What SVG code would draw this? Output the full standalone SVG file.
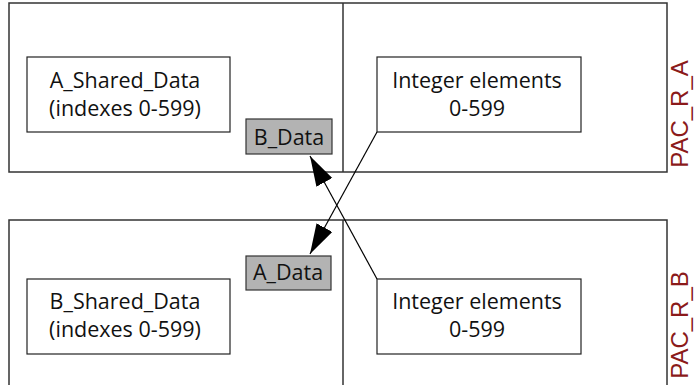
<svg xmlns="http://www.w3.org/2000/svg" width="697" height="385" viewBox="0 0 697 385">
<style>
.outer{fill:#fff;stroke:#333;stroke-width:1.5}
.div{stroke:#333;stroke-width:1.5}
.box{fill:#fff;stroke:#222;stroke-width:1.2}
.gbox{fill:#b3b3b3;stroke:#333;stroke-width:1.2}
.t{font-family:"Open Sans",sans-serif;font-size:21.5px;fill:#111;text-anchor:middle}
.lbl{font-family:"Liberation Sans",Arial,sans-serif;font-size:24px;fill:#8b1a1a;text-anchor:middle}
.conn{stroke:#000;stroke-width:1.2;fill:none}
</style>
<defs>
<marker id="ah" markerUnits="userSpaceOnUse" markerWidth="32" markerHeight="20" refX="30" refY="9" orient="auto">
<path d="M0,0 L30,9 L0,18 Z" fill="#000"/>
</marker>
</defs>
<g id="pac_r_a">
<rect class="outer" x="9" y="3" width="658" height="169"/>
<line class="div" x1="343" y1="3" x2="343" y2="172"/>
<text class="lbl" transform="translate(688,114) rotate(-90)">PAC_R_A</text>
</g>
<g id="pac_r_b">
<rect class="outer" x="9" y="220" width="658" height="175"/>
<line class="div" x1="343" y1="220" x2="343" y2="385"/>
<text class="lbl" transform="translate(688,325) rotate(-90)">PAC_R_B</text>
</g>
<g id="a_shared">
<rect class="box" x="27" y="57" width="203" height="75"/>
<text class="t" x="125" y="88">A_Shared_Data</text>
<text class="t" x="125" y="116">(indexes 0-599)</text>
</g>
<g id="int_a">
<rect class="box" x="377" y="57" width="204" height="75"/>
<text class="t" x="477" y="88">Integer elements</text>
<text class="t" x="477" y="116">0-599</text>
</g>
<g id="b_data">
<rect class="gbox" x="246" y="119" width="86" height="35"/>
<text class="t" x="289" y="145">B_Data</text>
</g>
<g id="a_data">
<rect class="gbox" x="246" y="256" width="85" height="34"/>
<text class="t" x="288" y="280">A_Data</text>
</g>
<g id="b_shared">
<rect class="box" x="27" y="279" width="203" height="75"/>
<text class="t" x="125" y="309">B_Shared_Data</text>
<text class="t" x="125" y="337">(indexes 0-599)</text>
</g>
<g id="int_b">
<rect class="box" x="377" y="279" width="204" height="75"/>
<text class="t" x="477" y="309">Integer elements</text>
<text class="t" x="477" y="337">0-599</text>
</g>
<g id="connectors">
<line class="conn" x1="377" y1="132" x2="310" y2="254" marker-end="url(#ah)"/>
<line class="conn" x1="377" y1="279" x2="310" y2="156" marker-end="url(#ah)"/>
</g>
</svg>
